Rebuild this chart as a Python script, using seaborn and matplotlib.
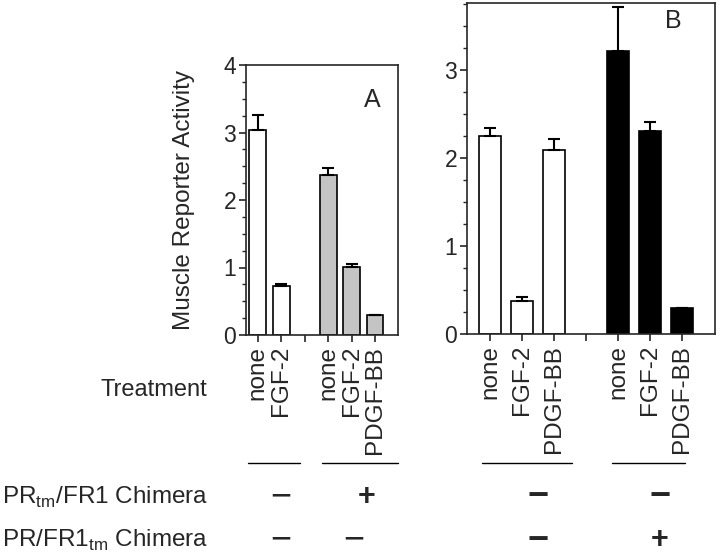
import numpy as np
import pandas as pd
import matplotlib
matplotlib.use("Agg")
import matplotlib.pyplot as plt
import seaborn as sns
from matplotlib.lines import Line2D
from matplotlib.ticker import MultipleLocator

# ---------------- data ----------------
slots_a = ["a0", "a1", "a2", "a3", "a4", "a5"]          # a2 is an empty gap slot
labels_a = ["none", "FGF-2", "", "none", "FGF-2", "PDGF-BB"]
values_a = [3.03, 0.73, None, 2.37, 1.01, 0.29]
errors_a = [0.23, 0.025, None, 0.11, 0.035, 0.01]
groups_a = ["ctrl", "ctrl", None, "prtm", "prtm", "prtm"]

slots_b = ["b0", "b1", "b2", "b3", "b4", "b5", "b6"]     # b3 is an empty gap slot
labels_b = ["none", "FGF-2", "PDGF-BB", "", "none", "FGF-2", "PDGF-BB"]
values_b = [2.25, 0.375, 2.09, None, 3.22, 2.31, 0.30]
errors_b = [0.09, 0.045, 0.12, None, 0.50, 0.10, 0.0]
groups_b = ["ctrl", "ctrl", "ctrl", None, "fr1tm", "fr1tm", "fr1tm"]

group_colors = {"ctrl": "white", "prtm": "#c4c4c4", "fr1tm": "black"}

row1_label = r"PR$_{\mathregular{tm}}$/FR1 Chimera"
row2_label = r"PR/FR1$_{\mathregular{tm}}$ Chimera"
row1_signs = ["\u2212", "+", "\u2212", "\u2212"]
row2_signs = ["\u2212", "\u2212", "\u2212", "+"]

# ---------------- style ----------------
sns.set_style("ticks")
plt.rcParams["font.family"] = ["Liberation Sans", "DejaVu Sans"]
plt.rcParams["axes.linewidth"] = 1.2

fig = plt.figure(figsize=(7.2, 5.58), dpi=100)

def frame(slots, values, errors, groups):
    rows = [(s, v, e, g) for s, v, e, g in zip(slots, values, errors, groups) if v is not None]
    return pd.DataFrame(rows, columns=["slot", "value", "err", "group"])

def draw_panel(rect, slots, labels, values, errors, groups, ylim, yticks, xlim, width, letter, letter_pos):
    ax = fig.add_axes(rect)
    df = frame(slots, values, errors, groups)
    pal = {s: group_colors[g] for s, g in zip(df["slot"], df["group"])}
    sns.barplot(data=df, x="slot", y="value", hue="slot", order=slots, palette=pal,
                legend=False, width=width, edgecolor="black", linewidth=1.2,
                errorbar=None, ax=ax, saturation=1)
    pos = [slots.index(s) for s in df["slot"]]
    ax.errorbar(pos, df["value"], yerr=[np.zeros(len(df)), df["err"]], fmt="none",
                ecolor="black", elinewidth=1.5, capsize=4, capthick=1.5, zorder=5)
    ax.set_ylim(*ylim)
    ax.set_xlim(*xlim)
    ax.set_yticks(yticks)
    ax.yaxis.set_minor_locator(MultipleLocator(0.25))
    ax.set_xticks(range(len(slots)))
    ax.set_xticklabels(labels, rotation=90, fontsize=17.5, va="top")
    ax.tick_params(axis="y", labelsize=16.5, direction="out", length=5, width=1.2, pad=2)
    ax.tick_params(axis="y", which="minor", direction="out", length=3, width=1.0)
    ax.tick_params(axis="x", direction="out", length=5, width=1.2, pad=3)
    ax.set_xlabel("")
    ax.set_ylabel("")
    for sp in ax.spines.values():
        sp.set_visible(True)
        sp.set_linewidth(1.2)
    ax.text(letter_pos[0], letter_pos[1], letter, transform=ax.transAxes,
            fontsize=18, ha="center", va="center")
    return ax

W, H = 720, 558
def rect(l, t, r, b):
    return [l / W, 1 - b / H, (r - l) / W, (b - t) / H]

axA = draw_panel(rect(246, 65, 398, 335), slots_a, labels_a, values_a, errors_a, groups_a,
                 (0, 4), [0, 1, 2, 3, 4], (-0.5, 5.98), 0.72, "A", (0.83, 0.87))
axA.set_ylabel("Muscle Reporter Activity", fontsize=17.5)
axA.yaxis.set_label_coords(-0.335, 0.5)

axB = draw_panel(rect(467, 3, 715, 334), slots_b, labels_b, values_b, errors_b, groups_b,
                 (0, 3.76), [0, 1, 2, 3], (-0.72, 7.03), 0.7, "B", (0.83, 0.945))

# ---------------- bottom table ----------------
def fx(x): return x / W
def fy(y): return 1 - y / H

fig.text(fx(207), fy(390), "Treatment", fontsize=17, ha="right", va="center")

for x0, x1 in [(248, 300), (322, 398), (482, 572), (612, 685)]:
    fig.add_artist(Line2D([fx(x0), fx(x1)], [fy(463), fy(463)], color="black", lw=1.0))

fig.text(fx(208), fy(497), row1_label, fontsize=17.5, ha="right", va="center")
fig.text(fx(208), fy(540), row2_label, fontsize=17.5, ha="right", va="center")

sign_x1 = [281, 367, 538, 660]
sign_x2 = [281, 354, 538, 660]

def sign(x, y, s, bold):
    size = 26 if s == "\u2212" else 22
    fig.text(fx(x), fy(y), s, fontsize=size, ha="center", va="center",
             fontweight="bold" if bold else "normal")

for i, (s, x) in enumerate(zip(row1_signs, sign_x1)):
    sign(x, 497, s, i >= 1)
for i, (s, x) in enumerate(zip(row2_signs, sign_x2)):
    sign(x, 540, s, i >= 2)

fig.savefig("out.png", dpi=100)
